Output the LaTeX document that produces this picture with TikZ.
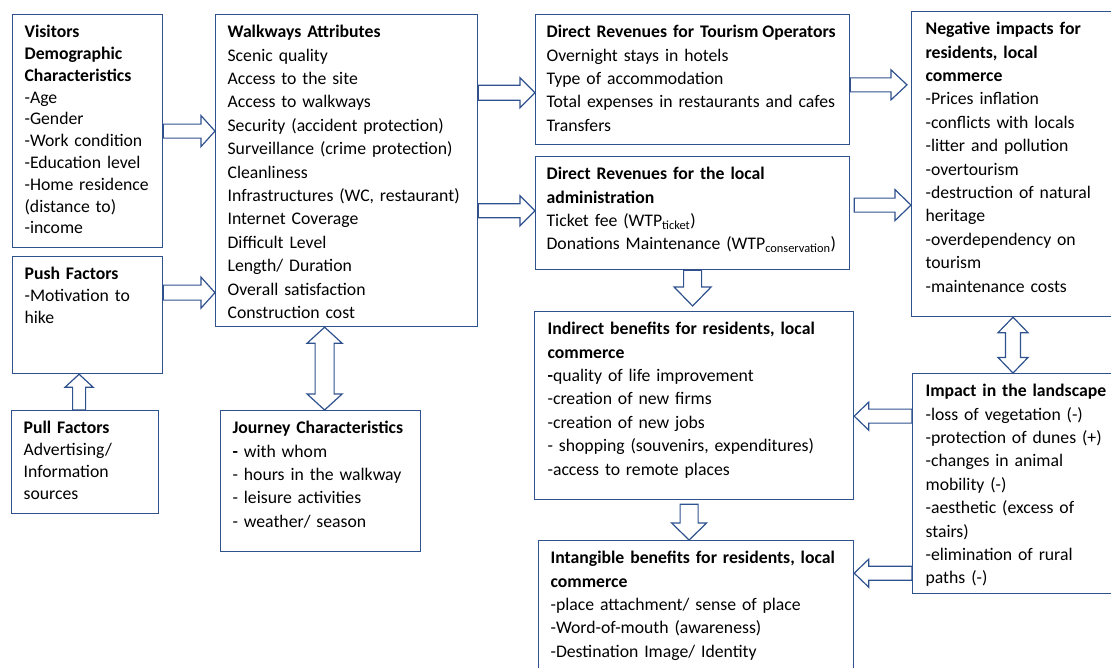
\documentclass[tikz,border=0pt]{standalone}
\usepackage{fontspec}
\setmainfont{Carlito}
\usetikzlibrary{calc}
\definecolor{boxblue}{RGB}{47,82,143}
\newcommand{\boxlines}[1]{\begin{tabular}[t]{@{}l@{}}#1\end{tabular}}

\begin{document}
\begin{tikzpicture}[x=1pt,y=-1pt,
  panel/.style={draw=boxblue, line width=1.2pt, anchor=north west, align=left,
    inner xsep=12pt, inner ysep=0pt, text height=23pt,
    font=\fontsize{17.7}{23.4}\selectfont},
  tight/.style={font=\fontsize{17.7}{21.8}\selectfont},
  shaftw/.store in=\shaftw, headw/.store in=\headw, headl/.store in=\headl,
  barrow/.style n args={3}{draw=boxblue, line width=1.2pt, line join=miter,
    shaftw=#1, headw=#2, headl=#3,
    to path={-- ($(\tikztostart)!\shaftw pt!-90:(\tikztotarget)$)
      -- ($($(\tikztotarget)!\headl pt!(\tikztostart)$)!\shaftw pt!90:(\tikztostart)$)
      -- ($($(\tikztotarget)!\headl pt!(\tikztostart)$)!\headw pt!90:(\tikztostart)$)
      -- (\tikztotarget)
      -- ($($(\tikztotarget)!\headl pt!(\tikztostart)$)!\headw pt!-90:(\tikztostart)$)
      -- ($($(\tikztotarget)!\headl pt!(\tikztostart)$)!\shaftw pt!-90:(\tikztostart)$)
      -- ($(\tikztostart)!\shaftw pt!90:(\tikztotarget)$) -- cycle}},
  dbarrow/.style n args={3}{draw=boxblue, line width=1.2pt, line join=miter,
    shaftw=#1, headw=#2, headl=#3,
    to path={-- ($($(\tikztostart)!\headl pt!(\tikztotarget)$)!\headw pt!90:(\tikztotarget)$)
      -- ($($(\tikztostart)!\headl pt!(\tikztotarget)$)!\shaftw pt!90:(\tikztotarget)$)
      -- ($($(\tikztotarget)!\headl pt!(\tikztostart)$)!\shaftw pt!-90:(\tikztostart)$)
      -- ($($(\tikztotarget)!\headl pt!(\tikztostart)$)!\headw pt!-90:(\tikztostart)$)
      -- (\tikztotarget)
      -- ($($(\tikztotarget)!\headl pt!(\tikztostart)$)!\headw pt!90:(\tikztostart)$)
      -- ($($(\tikztotarget)!\headl pt!(\tikztostart)$)!\shaftw pt!90:(\tikztostart)$)
      -- ($($(\tikztostart)!\headl pt!(\tikztotarget)$)!\shaftw pt!-90:(\tikztotarget)$)
      -- ($($(\tikztostart)!\headl pt!(\tikztotarget)$)!\headw pt!-90:(\tikztotarget)$)
      -- cycle}}]
  \useasboundingbox (0,0) rectangle (1111,667);

  \node[panel, tight, text width=126pt, text depth=210pt] (vis) at (12,14)
    {\boxlines{\textbf{Visitors}\\\textbf{Demographic}\\\textbf{Characteristics}\\-Age\\-Gender\\-Work condition\\-Education level\\-Home residence\\(distance to)\\-income}};
  \node[panel, tight, text width=126pt, text depth=94pt] (push) at (12,256)
    {\boxlines{\textbf{Push Factors}\\-Motivation to\\hike}};
  \node[panel, tight, text width=123pt, text depth=80pt] (pull) at (11,410)
    {\boxlines{\textbf{Pull Factors}\\Advertising/\\Information\\sources}};
  \node[panel, text width=238pt, text depth=289pt] (walk) at (215,14)
    {\boxlines{\textbf{Walkways Attributes}\\Scenic quality\\Access to the site\\Access to walkways\\Security (accident protection)\\Surveillance (crime protection)\\Cleanliness\\Infrastructures (WC, restaurant)\\Internet Coverage\\Difficult Level\\Length/ Duration\\Overall satisfaction\\Construction cost}};
  \node[panel, text width=176pt, text depth=118pt] (journey) at (220,410)
    {\boxlines{\textbf{Journey Characteristics}\\\textbf{-} with whom\\- hours in the walkway\\- leisure activities\\- weather/ season}};
  \node[panel, inner xsep=11pt, text width=292pt, text depth=107pt] (tour) at (535,14)
    {\boxlines{\textbf{Direct Revenues for Tourism\hspace{-2pt} Operators}\\Overnight stays in hotels\\Type of accommodation\\Total expenses in restaurants and cafes\\Transfers}};
  \node[panel, inner xsep=11pt, text width=292pt, text depth=90pt] (local) at (535,156)
    {\boxlines{\textbf{Direct Revenues for the local}\\\textbf{administration}\\Ticket fee (WTP\textsubscript{ticket})\\Donations Maintenance (WTP\textsubscript{conservation})}};
  \node[panel, inner xsep=14pt, text width=183pt, text depth=282pt] (neg) at (911,11)
    {\boxlines{\textbf{Negative impacts for}\\\textbf{residents, local}\\\textbf{commerce}\\-Prices inflation\\-conflicts with locals\\-litter and pollution\\-overtourism\\-destruction of natural\\heritage\\-overdependency on\\tourism\\-maintenance costs}};
  \node[panel, inner xsep=13pt, text width=293pt, text depth=165pt] (ind) at (534,311)
    {\boxlines{\textbf{Indirect benefits for residents, local}\\\textbf{commerce}\\\textbf{-}quality of life improvement\\-creation of new firms\\-creation of new jobs\\- shopping (souvenirs, expenditures)\\-access to remote places}};
  \node[panel, text width=291pt, text depth=117pt] (intang) at (538,540)
    {\boxlines{\textbf{Intangible benefits for residents, local}\\\textbf{commerce}\\-place attachment/ sense of place\\-Word-of-mouth (awareness)\\-Destination Image/ Identity}};
  \node[panel, inner xsep=13pt, text width=184pt, text depth=197pt] (impact) at (912,373)
    {\boxlines{\textbf{Impact in the landscape}\\-loss of vegetation (-)\\-protection of dunes (+)\\-changes in animal\\mobility (-)\\-aesthetic (excess of\\stairs)\\-elimination of rural\\paths (-)}};

  \coordinate (pushout) at ($(push.north east)!0.31!(push.south east)$);
  \coordinate (pullout) at ($(pull.north)+(-6,0)$);
  \coordinate (jout) at ($(journey.north)+(4,0)$);
  \coordinate (tourin) at ($(tour.north west)!0.6!(tour.south west)$);
  \coordinate (localin) at ($(local.north west)!0.48!(local.south west)$);
  \coordinate (tourout) at ($(tour.north east)!0.54!(tour.south east)$);
  \coordinate (negin) at ($(tourout -| neg.west)+(-4,0)$);
  \coordinate (localout) at ($(local.north east)!0.43!(local.south east)+(4,0)$);
  \coordinate (indin) at ($(local.south |- ind.north)+(0,-5)$);
  \coordinate (indout) at ($(ind.south)+(-5,4)$);
  \coordinate (impin) at ($(impact.north west)+(101,0)$);
  \coordinate (impout1) at ($(impact.north west)!0.195!(impact.south west)$);
  \coordinate (impout2) at ($(impact.north west)!0.905!(impact.south west)$);

  \draw[barrow={7}{15.5}{14}] (vis.east) to (vis.east -| walk.west);
  \draw[barrow={7.5}{15.5}{14}] (pushout) to (pushout -| walk.west);
  \draw[barrow={6.5}{14}{13}] (pullout) to (pullout |- push.south);
  \draw[dbarrow={9.5}{17.5}{16}] (jout) to (jout |- walk.south);
  \draw[barrow={7.5}{15}{15}] (tourin -| walk.east) to (tourin);
  \draw[barrow={7}{15}{15}] (localin -| walk.east) to (localin);
  \draw[barrow={7}{15}{16}] (tourout) to (negin);
  \draw[barrow={7}{15.5}{16}] (localout) to (localout -| neg.west);
  \draw[barrow={9}{18.5}{19}] (local.south) to (indin);
  \draw[barrow={9}{17.5}{17}] (indout) to (indout |- intang.north);
  \draw[dbarrow={7.5}{15}{15.5}] (impin) to (impin |- neg.south);
  \draw[barrow={7}{14}{14.5}] (impout1) to (impout1 -| ind.east);
  \draw[barrow={7}{14}{14.5}] (impout2) to (impout2 -| intang.east);
\end{tikzpicture}
\end{document}
